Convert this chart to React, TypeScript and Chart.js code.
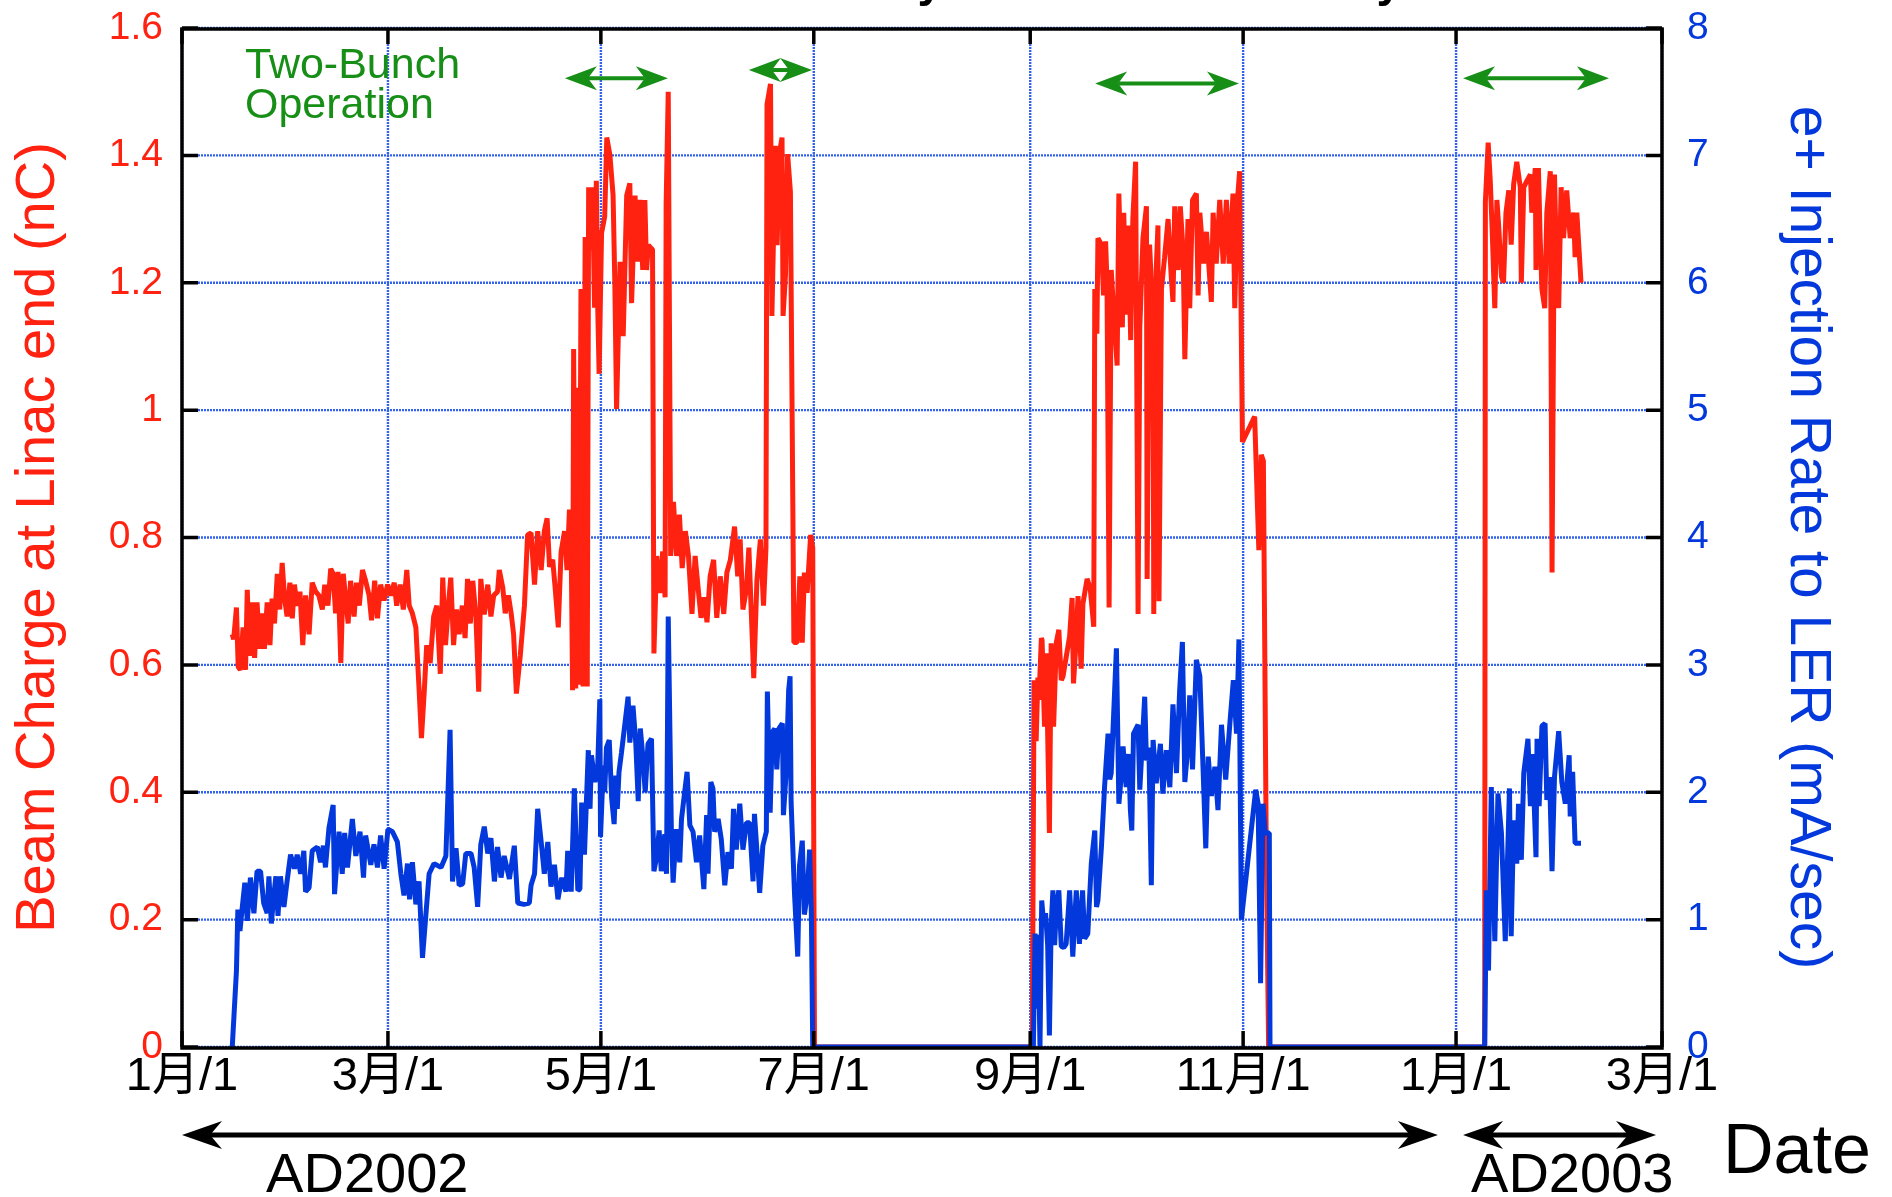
import { useEffect, useRef } from 'react';
import { Chart, registerables } from 'chart.js';

Chart.register(...registerables);

const FONT = '"Liberation Sans", Arial, Helvetica, "Noto Sans CJK JP", sans-serif';
const RED = '#ff2211';
const BLUE = '#0339dc';
const GREEN = '#178f17';
const GRID = 'rgba(40,90,235,0.95)';

// x axis: days counted from 2002-01-01
const xTickDays = [0, 59, 120, 181, 243, 304, 365, 424];
const xTickLabels = ['1月/1', '3月/1', '5月/1', '7月/1', '9月/1', '11月/1', '1月/1', '3月/1'];
const leftTicks = [0, 0.2, 0.4, 0.6, 0.8, 1, 1.2, 1.4, 1.6];
const leftTickLabels = ['0', '0.2', '0.4', '0.6', '0.8', '1', '1.2', '1.4', '1.6'];
const rightTicks = [0, 1, 2, 3, 4, 5, 6, 7, 8];
const rightTickLabels = ['0', '1', '2', '3', '4', '5', '6', '7', '8'];

// Beam charge at linac end (nC) : [day, value]
const springCharge: [number, number][] = [
  [14.4, .648], [14.8, .640], [15.6, .690], [16.1, .597], [16.7, .592], [17.5, .659], [18.2, .592], [18.7, .718], [19.3, .614], [20.1, .698],
  [20.8, .611], [21.5, .698], [22.3, .625], [23.0, .681], [23.6, .625], [24.4, .698], [25.2, .631], [25.8, .704], [26.5, .665], [27.3, .743],
  [28.0, .687], [28.7, .760], [29.4, .704], [30.1, .676], [30.9, .729], [31.6, .673], [32.2, .726], [33.0, .693], [33.8, .715], [34.6, .631],
  [35.4, .709], [36.4, .648], [37.3, .729], [38.3, .715], [39.2, .709], [40.2, .687], [40.9, .726], [41.8, .693], [42.6, .751], [43.3, .743],
  [44.0, .681], [44.7, .746], [45.5, .603], [46.2, .743], [46.9, .704], [47.6, .665], [48.3, .732], [49.3, .676], [50.0, .729], [50.8, .693],
  [51.7, .749], [52.6, .732], [53.6, .709], [54.3, .670], [55.2, .732], [56.0, .673], [56.9, .726], [57.9, .701], [58.9, .726], [59.8, .709],
  [60.8, .729], [61.5, .693], [62.5, .726], [63.4, .687], [64.4, .749], [65.1, .693], [66.0, .681], [67.0, .659], [67.9, .564], [68.6, .485],
  [69.4, .558], [70.1, .631], [71.1, .603], [72.1, .676], [73.0, .693], [74.0, .586], [74.7, .737], [75.5, .631], [76.3, .693], [77.0, .737],
  [77.8, .631], [78.6, .687], [79.4, .648], [80.3, .693], [81.1, .642], [81.8, .735], [82.6, .665], [83.3, .732], [84.2, .676], [85.0, .558],
  [85.6, .735], [86.6, .679], [87.6, .726], [88.5, .676], [89.3, .709], [90.4, .715], [90.9, .749], [91.9, .721], [92.6, .681], [93.5, .709],
  [94.3, .681], [95.0, .648], [95.8, .555], [96.9, .614], [98.1, .693], [99.0, .804], [100.0, .807], [101.0, .726], [101.9, .810], [102.9, .749],
  [103.8, .810], [104.6, .830], [105.3, .754], [106.2, .765], [106.9, .721], [107.8, .659], [108.6, .777], [109.6, .810], [110.3, .749], [111.0, .844],
  [111.5, .784], [111.9, .560], [112.2, 1.096], [112.8, .563], [113.4, 1.035], [113.8, .569], [114.3, 1.19], [114.9, .566], [115.5, 1.272], [116.1, .566],
  [116.5, 1.35], [117.0, 1.252], [117.6, 1.35], [118.2, 1.161], [118.7, 1.36], [119.1, 1.161], [119.5, 1.057], [120.2, 1.278], [121.1, 1.304], [121.7, 1.428],
  [122.6, 1.40], [123.5, 1.337], [124.0, 1.20], [124.5, 1.002], [125.5, 1.233], [126.4, 1.116], [127.4, 1.337], [128.3, 1.356], [128.8, 1.168], [129.8, 1.337],
  [130.5, 1.233], [131.2, 1.33], [132.0, 1.22], [132.6, 1.33], [133.1, 1.22], [133.6, 1.259], [134.8, 1.252], [135.2, .618], [136.0, .771], [137.0, .713],
  [137.7, .778], [138.4, .706], [138.7, 1.324], [139.3, 1.50], [140.0, .771], [140.8, .856], [141.7, .771], [142.5, .836], [143.3, .752], [144.2, .81],
  [145.1, .771], [146.1, .68], [147.0, .771], [148.0, .713], [148.7, .674], [149.6, .706], [150.4, .667], [151.3, .739], [152.3, .765], [153.2, .674],
  [154.2, .739], [155.2, .68], [156.1, .745], [157.1, .765], [158.3, .817], [159.2, .739], [159.9, .797], [160.7, .687], [161.7, .719], [162.4, .784],
  [163.8, .579], [164.7, .732], [165.7, .797], [166.6, .693], [167.3, .784], [167.6, 1.48], [168.6, 1.512], [169.0, 1.148], [170.0, 1.415], [170.5, 1.259],
  [171.1, 1.402], [171.9, 1.428], [172.2, 1.148], [172.9, 1.213], [173.5, 1.402], [174.3, 1.343], [175.3, .635], [176.2, .635], [177.0, .739], [177.7, .635],
  [178.3, .745], [179.1, .713], [180.1, .804], [180.7, .784], [181.2, 0],
];
const autumnCharge: [number, number][] = [
  [243.6, 0], [244.1, .576], [244.7, .48], [245.2, .58], [245.5, .545], [246.2, .642], [246.4, .639], [247.1, .503], [247.6, .618], [248.5, .336],
  [249.0, .634], [249.7, .503], [250.5, .636], [251.2, .655], [251.9, .576], [252.4, .582], [253.3, .612], [254.3, .645], [255.0, .705], [255.4, .571],
  [256.0, .624], [256.7, .708], [257.6, .594], [258.1, .696], [259.3, .735], [260.2, .72], [261.2, .66], [261.5, 1.19], [262.1, 1.12], [262.4, 1.27],
  [263.4, 1.26], [264.0, 1.18], [264.6, 1.265], [265.0, 1.20], [265.6, .69], [266.2, 1.22], [267.2, 1.13], [267.9, 1.07], [268.4, 1.34], [269.4, 1.13],
  [269.8, 1.31], [270.5, 1.15], [271.0, 1.29], [271.8, 1.11], [272.4, 1.30], [273.2, 1.39], [273.9, .68], [274.4, 1.13], [275.3, 1.27], [276.3, 1.32],
  [276.5, .735], [277.2, 1.26], [278.2, 1.14], [278.4, .68], [279.1, 1.22], [279.6, 1.29], [279.9, .70], [280.6, 1.19], [281.5, 1.24], [282.5, 1.30],
  [283.4, 1.21], [283.9, 1.17], [284.4, 1.32], [285.4, 1.22], [286.0, 1.32], [286.8, 1.25], [287.3, 1.08], [288.2, 1.30], [288.7, 1.16], [289.5, 1.33],
  [290.6, 1.34], [291.1, 1.18], [291.6, 1.31], [292.7, 1.23], [293.5, 1.28], [294.9, 1.17], [295.4, 1.31], [296.3, 1.23], [297.3, 1.33], [298.3, 1.23],
  [299.2, 1.33], [300.0, 1.23], [301.1, 1.34], [301.6, 1.16], [302.3, 1.325], [303.0, 1.375], [303.8, .95], [307.3, .99], [308.5, .78], [309.2, .93],
  [309.8, .92], [310.6, .33], [311.3, 0],
];
const winterCharge: [number, number][] = [
  [373.2, 0], [373.4, 1.327], [374.2, 1.42], [374.8, 1.36], [375.3, 1.29], [376.1, 1.16], [376.7, 1.33], [377.2, 1.29], [378.0, 1.21], [378.6, 1.20],
  [379.3, 1.31], [380.1, 1.345], [380.8, 1.26], [381.5, 1.355], [382.4, 1.39], [383.4, 1.35], [383.7, 1.20], [384.4, 1.35], [385.3, 1.36], [386.3, 1.37],
  [386.7, 1.31], [387.7, 1.38], [387.9, 1.22], [388.6, 1.38], [389.1, 1.27], [389.6, 1.19], [390.4, 1.16], [391.0, 1.31], [392.0, 1.375], [392.5, .745],
  [393.2, 1.37], [393.7, 1.25], [394.4, 1.16], [395.1, 1.35], [395.8, 1.27], [396.7, 1.345], [397.7, 1.27], [398.7, 1.31], [399.1, 1.24], [399.6, 1.31],
  [400.8, 1.20],
];

// e+ injection rate to LER (mA/sec) : [day, value]
const springRate: [number, number][] = [
  [14.4, 0], [15.6, .6], [16.0, 1.08], [16.6, .91], [17.2, 1.08], [18.0, 1.29], [18.7, .99], [19.6, 1.33], [20.6, 1.05], [21.5, 1.38],
  [22.5, 1.38], [23.4, 1.13], [24.4, 1.05], [24.9, 1.34], [25.6, .97], [26.3, 1.19], [26.9, 1.34], [27.5, 1.03], [28.2, 1.34], [29.2, 1.10],
  [30.1, 1.30], [31.1, 1.51], [32.2, 1.40], [33.0, 1.51], [34.0, 1.36], [34.9, 1.54], [35.4, 1.22], [36.4, 1.25], [37.3, 1.54], [38.8, 1.57],
  [39.7, 1.45], [40.5, 1.58], [41.1, 1.41], [42.1, 1.72], [43.3, 1.90], [43.7, 1.20], [45.0, 1.69], [45.9, 1.36], [46.6, 1.68], [47.4, 1.41],
  [48.8, 1.79], [49.8, 1.50], [51.0, 1.69], [52.0, 1.33], [52.6, 1.66], [54.1, 1.43], [55.0, 1.59], [56.0, 1.41], [56.9, 1.66], [57.9, 1.40],
  [59.0, 1.71], [60.3, 1.69], [61.7, 1.61], [62.7, 1.36], [63.6, 1.19], [64.6, 1.44], [65.2, 1.16], [66.0, 1.45], [67.0, 1.12], [67.9, 1.30],
  [68.9, .70], [69.9, 1.05], [70.8, 1.36], [72.2, 1.44], [74.2, 1.41], [75.6, 1.50], [76.8, 2.49], [77.5, 1.30], [78.5, 1.56], [79.4, 1.27],
  [80.4, 1.28], [81.3, 1.52], [82.8, 1.52], [83.7, 1.41], [84.7, 1.10], [85.6, 1.59], [86.6, 1.73], [87.6, 1.52], [88.5, 1.64], [89.5, 1.30],
  [90.4, 1.57], [91.4, 1.33], [92.3, 1.50], [93.8, 1.32], [95.2, 1.58], [96.2, 1.13], [97.9, 1.12], [99.5, 1.13], [100.0, 1.27], [101.0, 1.36],
  [101.9, 1.87], [102.9, 1.61], [103.8, 1.36], [104.8, 1.61], [105.7, 1.26], [106.7, 1.43], [107.7, 1.16], [108.8, 1.33], [110.0, 1.22], [110.5, 1.54],
  [111.5, 1.22], [112.4, 2.03], [113.4, 1.23], [114.0, 1.24], [114.5, 1.92], [115.3, 1.51], [116.4, 2.33], [116.9, 1.87], [117.3, 2.29], [118.3, 2.08],
  [119.1, 2.21], [119.7, 2.73], [119.9, 1.65], [120.7, 2.21], [121.1, 2.0], [121.6, 2.35], [122.4, 2.41], [123.1, 1.95], [123.8, 1.75], [124.3, 2.13],
  [124.7, 1.87], [125.2, 2.16], [125.9, 2.31], [126.6, 2.47], [127.8, 2.75], [128.3, 2.39], [129.2, 2.68], [130.0, 2.39], [130.7, 1.93], [131.3, 2.50],
  [132.1, 2.26], [132.7, 2.00], [133.5, 2.38], [134.5, 2.42], [135.2, 1.38], [135.9, 1.48], [136.7, 1.70], [137.3, 1.38], [138.3, 1.67], [138.8, 1.36],
  [139.3, 3.38], [140.2, 1.69], [140.7, 1.29], [141.6, 1.71], [142.6, 1.45], [143.1, 1.79], [144.0, 2.00], [144.7, 2.16], [145.5, 1.74], [146.4, 1.69],
  [147.4, 1.45], [148.3, 1.66], [149.5, 1.24], [150.3, 1.82], [150.7, 1.36], [151.5, 2.08], [152.1, 2.03], [152.6, 1.69], [153.6, 1.79], [154.5, 1.63],
  [155.5, 1.27], [156.4, 1.53], [157.4, 1.40], [158.0, 1.87], [158.8, 1.55], [159.8, 1.91], [160.7, 1.55], [161.7, 1.76], [162.6, 1.76], [163.6, 1.30],
  [164.0, 1.83], [165.0, 1.42], [165.5, 1.21], [166.4, 1.58], [167.4, 1.69], [167.7, 2.79], [168.5, 1.84], [169.1, 2.47], [169.8, 2.50], [170.4, 2.18],
  [171.0, 2.50], [172.0, 2.54], [172.3, 1.82], [173.1, 2.16], [173.8, 2.80], [174.2, 2.91], [174.5, 1.92], [175.5, 1.19], [176.4, .71], [176.9, 1.42],
  [177.7, 1.62], [178.3, 1.04], [179.1, 1.19], [179.8, 1.55], [180.3, 1.05], [180.7, 0],
];
const autumnRate: [number, number][] = [
  [243.9, 0], [244.4, .89], [244.9, .30], [245.3, .88], [245.8, 0], [246.3, 1.15], [246.9, .95], [247.4, 1.05], [248.0, .80], [248.5, .09],
  [249.0, .95], [249.5, 1.23], [250.0, .80], [250.5, 1.10], [251.2, 1.23], [251.9, .79], [252.6, .78], [253.3, .81], [254.3, 1.23], [255.2, .71],
  [256.2, 1.23], [257.1, .81], [258.0, 1.23], [258.6, .85], [259.5, .89], [260.5, 1.44], [261.5, 1.70], [262.0, 1.10], [262.4, 1.15], [263.4, 1.57],
  [264.3, 2.04], [265.3, 2.46], [265.8, 2.10], [266.2, 2.15], [267.7, 3.13], [268.4, 1.91], [269.0, 2.10], [269.6, 2.36], [270.5, 2.04], [271.2, 2.30],
  [271.7, 1.86], [272.1, 1.70], [272.6, 2.46], [273.9, 2.53], [274.4, 2.02], [275.8, 2.75], [276.3, 2.25], [277.0, 2.35], [277.7, 1.27], [278.2, 2.41],
  [279.1, 2.07], [280.3, 2.38], [281.0, 1.99], [282.0, 2.33], [283.0, 2.04], [283.9, 2.69], [284.9, 2.15], [285.8, 2.79], [286.6, 3.18], [287.3, 2.08],
  [288.0, 2.30], [288.7, 2.76], [289.5, 2.18], [290.6, 3.04], [291.6, 2.91], [292.5, 2.20], [293.3, 1.56], [294.0, 2.28], [294.9, 1.97], [295.9, 2.20],
  [296.8, 1.86], [297.8, 2.53], [299.0, 2.10], [300.2, 2.54], [301.2, 2.88], [302.1, 2.46], [302.8, 3.20], [303.5, 1.00], [307.6, 2.02], [308.3, 1.91],
  [309.0, .50], [309.7, 1.91], [310.3, 1.68], [311.5, 1.68], [311.7, 0],
];
const winterRate: [number, number][] = [
  [373.2, 0], [373.7, 1.23], [374.3, .6], [375.1, 2.04], [376.1, .83], [377.0, 1.99], [378.0, 1.68], [379.1, .83], [380.3, 2.03], [380.8, .87],
  [381.5, 1.78], [382.4, 1.44], [382.9, 1.91], [383.7, 1.47], [384.4, 2.15], [385.6, 2.42], [386.3, 1.89], [386.9, 2.30], [387.9, 1.49], [388.2, 2.42],
  [388.8, 1.89], [389.6, 2.52], [390.5, 2.54], [391.0, 1.94], [391.8, 2.12], [392.5, 1.38], [393.2, 2.12], [394.4, 2.48], [395.3, 2.08], [396.3, 1.91],
  [397.4, 2.29], [397.7, 1.81], [398.4, 2.16], [399.1, 1.60], [400.8, 1.60],
];

// annotations
const twoBunchPeriods: [number, number][] = [[109.7, 139.2], [162.4, 180.5], [261.6, 302.8], [367.0, 408.8]];
const twoBunchArrowLevels = [1.521, 1.534, 1.513, 1.521];
const yearSpans: { label: string; from: number; to: number; textAt: number }[] = [
  { label: 'AD2002', from: 0, to: 359.8, textAt: 24.1 },
  { label: 'AD2003', from: 367.0, to: 422.3, textAt: 369.3 },
];

const toPoints = (rows: [number, number][]) => rows.map(([x, y]) => ({ x, y }));
const chargeSeries = toPoints([...springCharge, ...autumnCharge, ...winterCharge]);
const rateSeries = toPoints([...springRate, ...autumnRate, ...winterRate]);

function doubleArrow(ctx: CanvasRenderingContext2D, x1: number, x2: number, y: number, lw: number,
  headLen: number, half: number, notch: number, color: string) {
  ctx.save();
  ctx.fillStyle = color;
  ctx.strokeStyle = color;
  ctx.lineWidth = lw;
  ctx.setLineDash([]);
  ctx.beginPath();
  ctx.moveTo(x1 + headLen * notch, y);
  ctx.lineTo(x2 - headLen * notch, y);
  ctx.stroke();
  const head = (tx: number, dir: number) => {
    ctx.beginPath();
    ctx.moveTo(tx, y);
    ctx.lineTo(tx + dir * headLen, y - half);
    ctx.lineTo(tx + dir * headLen * notch, y);
    ctx.lineTo(tx + dir * headLen, y + half);
    ctx.closePath();
    ctx.fill();
  };
  head(x1, 1);
  head(x2, -1);
  ctx.restore();
}

const TICK = 16;

const decorPlugin = {
  id: 'decor',
  beforeDatasetsDraw(chart: any) {
    const { ctx, chartArea: a, scales } = chart;
    ctx.save();
    ctx.strokeStyle = GRID;
    ctx.lineWidth = 2.4;
    ctx.setLineDash([2, 1]);
    ctx.beginPath();
    for (const v of leftTicks) {
      const py = scales.y.getPixelForValue(v);
      ctx.moveTo(a.left + TICK, py);
      ctx.lineTo(a.right - TICK, py);
    }
    for (const d of xTickDays) {
      const px = scales.x.getPixelForValue(d);
      ctx.moveTo(px, a.top + TICK);
      ctx.lineTo(px, a.bottom - TICK);
    }
    ctx.stroke();
    ctx.restore();
  },
  afterDatasetsDraw(chart: any) {
    const { ctx, chartArea: a, scales } = chart;
    ctx.save();
    ctx.strokeStyle = '#000';
    ctx.lineWidth = 3.5;
    ctx.setLineDash([]);
    ctx.beginPath();
    for (const v of leftTicks) {
      const py = scales.y.getPixelForValue(v);
      ctx.moveTo(a.left, py);
      ctx.lineTo(a.left + TICK, py);
    }
    for (const v of rightTicks) {
      const py = scales.y1.getPixelForValue(v);
      ctx.moveTo(a.right - TICK, py);
      ctx.lineTo(a.right, py);
    }
    for (const d of xTickDays) {
      const px = scales.x.getPixelForValue(d);
      ctx.moveTo(px, a.top);
      ctx.lineTo(px, a.top + TICK);
      ctx.moveTo(px, a.bottom - TICK);
      ctx.lineTo(px, a.bottom);
    }
    ctx.stroke();
    ctx.strokeRect(a.left, a.top + 1, a.right - a.left, a.bottom - a.top);
    ctx.restore();
  },
  afterDraw(chart: any) {
    const { ctx, chartArea: a, scales } = chart;
    ctx.save();
    // green "Two-Bunch Operation" annotation
    ctx.fillStyle = GREEN;
    ctx.font = `43px ${FONT}`;
    ctx.textAlign = 'left';
    ctx.textBaseline = 'alphabetic';
    ctx.fillText('Two-Bunch', a.left + 63, a.top + 50);
    ctx.fillText('Operation', a.left + 63, a.top + 90);
    twoBunchPeriods.forEach(([from, to], i) => {
      const y = scales.y.getPixelForValue(twoBunchArrowLevels[i]);
      doubleArrow(ctx, scales.x.getPixelForValue(from), scales.x.getPixelForValue(to), y, 4, 32, 12, 0.72, GREEN);
    });
    // year spans below the axis
    ctx.fillStyle = '#000';
    ctx.font = `56px ${FONT}`;
    const arrowY = a.bottom + 88;
    for (const s of yearSpans) {
      doubleArrow(ctx, scales.x.getPixelForValue(s.from), scales.x.getPixelForValue(s.to), arrowY, 5, 40, 14, 0.7, '#000');
      ctx.fillText(s.label, scales.x.getPixelForValue(s.textAt), a.bottom + 145);
    }
    ctx.font = `70px ${FONT}`;
    ctx.fillText('Date', a.right + 61, a.bottom + 126);
    // title, cut off by the top edge (only descenders remain)
    ctx.font = `bold 46px ${FONT}`;
    ctx.textAlign = 'right';
    ctx.fillText('Daily', 943, -4);
    ctx.fillText('History', 1402, -4);
    ctx.restore();
  },
};

const fixVertical = (w: number) => (s: any) => {
  s.width = w;
  s.paddingTop = 0;
  s.paddingBottom = 0;
};

export default function App() {
  const ref = useRef<HTMLCanvasElement>(null);
  useEffect(() => {
    if (!ref.current) return;
    const chart = new Chart(ref.current, {
      type: 'line',
      data: {
        datasets: [
          {
            label: 'e+ Injection Rate to LER (mA/sec)',
            data: rateSeries,
            yAxisID: 'y1',
            borderColor: BLUE,
            backgroundColor: BLUE,
            borderWidth: 5,
            pointRadius: 0,
            tension: 0,
            borderJoinStyle: 'bevel',
            fill: false,
          },
          {
            label: 'Beam Charge at Linac end (nC)',
            data: chargeSeries,
            yAxisID: 'y',
            borderColor: RED,
            backgroundColor: RED,
            borderWidth: 5,
            pointRadius: 0,
            tension: 0,
            borderJoinStyle: 'bevel',
            fill: false,
          },
        ],
      },
      options: {
        animation: false,
        responsive: false,
        maintainAspectRatio: false,
        layout: { padding: { top: 28, left: 0, right: 0, bottom: 0 } },
        plugins: { legend: { display: false }, tooltip: { enabled: false }, title: { display: false } },
        scales: {
          x: {
            type: 'linear',
            position: 'bottom',
            min: 0,
            max: 424,
            grid: { display: false, drawTicks: false },
            border: { display: false },
            afterBuildTicks: (s: any) => { s.ticks = xTickDays.map((v) => ({ value: v })); },
            afterFit: (s: any) => { s.height = 150; s.paddingLeft = 0; s.paddingRight = 0; },
            ticks: {
              autoSkip: false,
              maxRotation: 0,
              minRotation: 0,
              padding: 2,
              color: '#000',
              font: { family: FONT, size: 47 },
              callback: (v: any) => xTickLabels[xTickDays.indexOf(Number(v))] ?? '',
            },
          },
          y: {
            type: 'linear',
            position: 'left',
            min: 0,
            max: 1.6,
            grid: { display: false, drawTicks: false },
            border: { display: false },
            afterBuildTicks: (s: any) => { s.ticks = leftTicks.map((v) => ({ value: v })); },
            afterFit: fixVertical(182),
            ticks: {
              padding: 19,
              color: RED,
              font: { family: FONT, size: 39 },
              callback: (_v: any, i: number) => leftTickLabels[i],
            },
            title: {
              display: true,
              text: 'Beam Charge at Linac end (nC)',
              color: RED,
              font: { family: FONT, size: 56 },
              padding: { top: 5, bottom: 0 },
            },
          },
          y1: {
            type: 'linear',
            position: 'right',
            min: 0,
            max: 8,
            grid: { display: false, drawTicks: false },
            border: { display: false },
            afterBuildTicks: (s: any) => { s.ticks = rightTicks.map((v) => ({ value: v })); },
            afterFit: fixVertical(230),
            ticks: {
              padding: 25,
              color: BLUE,
              font: { family: FONT, size: 39 },
              callback: (_v: any, i: number) => rightTickLabels[i],
            },
            title: {
              display: true,
              text: 'e+ Injection Rate to LER (mA/sec)',
              color: BLUE,
              font: { family: FONT, size: 57 },
              padding: { top: 51, bottom: 0 },
            },
          },
        },
      } as any,
      plugins: [decorPlugin],
    });
    return () => chart.destroy();
  }, []);

  return (
    <div style={{ position: 'fixed', left: 0, top: 0, width: 1892, height: 1197, background: '#fff' }}>
      <canvas ref={ref} width={1892} height={1197} style={{ display: 'block', width: 1892, height: 1197 }} />
    </div>
  );
}
